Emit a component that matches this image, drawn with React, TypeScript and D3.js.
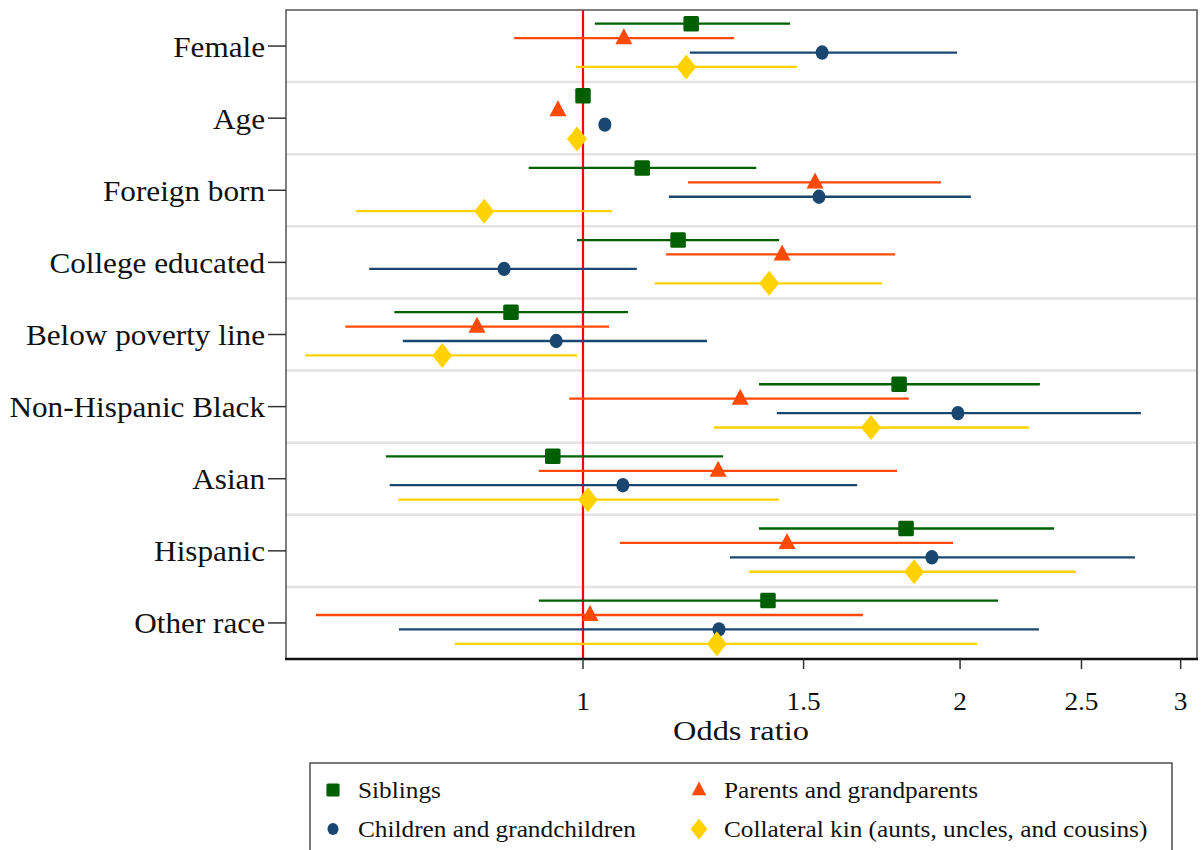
import React from "react";
import * as d3 from "d3";

const categories = [
  "Female",
  "Age",
  "Foreign born",
  "College educated",
  "Below poverty line",
  "Non-Hispanic Black",
  "Asian",
  "Hispanic",
  "Other race",
];

const seriesNames = [
  "Siblings",
  "Parents and grandparents",
  "Children and grandchildren",
  "Collateral kin (aunts, uncles, and cousins)",
];
const seriesColors = ["#005f00", "#ff4a06", "#1a476f", "#ffd200"];
const seriesShapes = ["square", "triangle", "circle", "diamond"];

// [estimate, lower, upper] per category
const siblings = [
  [1.22, 1.022, 1.463],
  [1.0, 1.0, 1.0],
  [1.115, 0.905, 1.375],
  [1.191, 0.989, 1.434],
  [0.876, 0.707, 1.086],
  [1.788, 1.382, 2.316],
  [0.946, 0.696, 1.294],
  [1.811, 1.382, 2.377],
  [1.405, 0.922, 2.145],
];
const parents = [
  [1.078, 0.881, 1.32],
  [0.955, 0.955, 0.955],
  [1.532, 1.213, 1.931],
  [1.442, 1.165, 1.775],
  [0.823, 0.646, 1.049],
  [1.335, 0.975, 1.82],
  [1.282, 0.922, 1.781],
  [1.455, 1.07, 1.974],
  [1.013, 0.612, 1.673],
];
const children = [
  [1.552, 1.217, 1.989],
  [1.041, 1.041, 1.041],
  [1.543, 1.171, 2.04],
  [0.865, 0.675, 1.104],
  [0.952, 0.718, 1.256],
  [1.992, 1.428, 2.789],
  [1.076, 0.701, 1.655],
  [1.899, 1.31, 2.758],
  [1.284, 0.713, 2.312],
];
const collateral = [
  [1.209, 0.987, 1.482],
  [0.989, 0.989, 0.989],
  [0.834, 0.659, 1.055],
  [1.408, 1.141, 1.733],
  [0.772, 0.6, 0.989],
  [1.698, 1.272, 2.27],
  [1.009, 0.712, 1.434],
  [1.838, 1.357, 2.475],
  [1.279, 0.79, 2.063],
];
const seriesData = [siblings, parents, children, collateral];

const xTicks = [1, 1.5, 2, 2.5, 3];
const xTickLabels = ["1", "1.5", "2", "2.5", "3"];
const xTitle = "Odds ratio";

const FONT = "'Liberation Serif', 'Times New Roman', serif";

function Marker({ shape, x, y, color, scale = 1 }: any) {
  if (shape === "square") {
    const s = 15.5 * scale;
    return <rect x={x - s / 2} y={y - s / 2} width={s} height={s} rx={1.5} fill={color} />;
  }
  if (shape === "triangle") {
    const w = 17 * scale, h = 16 * scale;
    return (
      <path
        d={`M${x},${y - h * 0.62} L${x + w / 2},${y + h * 0.38} L${x - w / 2},${y + h * 0.38} Z`}
        fill={color}
      />
    );
  }
  if (shape === "circle") {
    return <ellipse cx={x} cy={y} rx={6.5 * scale} ry={7.2 * scale} fill={color} />;
  }
  const w = 20 * scale, h = 25 * scale;
  return (
    <path
      d={`M${x},${y - h / 2} L${x + w / 2},${y} L${x},${y + h / 2} L${x - w / 2},${y} Z`}
      fill={color}
    />
  );
}

function SText({ x, y, sx = 1, children, ...rest }: any) {
  return (
    <g transform={`translate(${x},${y}) scale(${sx},1)`}>
      <text x={0} y={0} fontFamily={FONT} fill="#111" {...rest}>
        {children}
      </text>
    </g>
  );
}

export default function App() {
  const W = 1201, H = 850;
  const left = 286, right = 1197, top = 10, bottom = 659;

  const x = d3
    .scaleLog()
    .domain([Math.exp((left - 583) / 544), Math.exp((right - 583) / 544)])
    .range([left, right]);
  const band = d3.scaleBand().domain(categories).range([top, bottom]).padding(0);
  const bw = band.bandwidth();
  const offsets = [0.19, 0.39, 0.59, 0.79];

  return (
    <svg width={W} height={H} style={{ position: "absolute", left: 0, top: 0, background: "#fff" }}>
      <rect x={0} y={0} width={W} height={H} fill="#fff" />
      {categories.slice(1).map((c) => (
        <line key={c} x1={left} x2={right} y1={band(c)!} y2={band(c)!} stroke="#e3e3e3" strokeWidth={2.5} />
      ))}
      <line x1={x(1)} x2={x(1)} y1={top} y2={bottom} stroke="#ff0000" strokeWidth={2.2} />
      {seriesData.map((data, si) =>
        data.map((d, ci) => {
          const y = band(categories[ci])! + bw * offsets[si];
          return (
            <g key={`${si}-${ci}`}>
              {d[1] !== d[2] && (
                <line x1={x(d[1])} x2={x(d[2])} y1={y} y2={y} stroke={seriesColors[si]} strokeWidth={2.3} />
              )}
              <Marker shape={seriesShapes[si]} x={x(d[0])} y={y} color={seriesColors[si]} />
            </g>
          );
        })
      )}
      <rect x={left} y={top} width={right - left} height={bottom - top} fill="none" stroke="#555" strokeWidth={1.5} />
      <line x1={left - 1} x2={right + 1} y1={bottom} y2={bottom} stroke="#111" strokeWidth={2.5} />
      {categories.map((c) => {
        const y = band(c)! + bw / 2;
        return (
          <g key={c}>
            <line x1={left - 18} x2={left} y1={y} y2={y} stroke="#333" strokeWidth={1.5} />
            <SText x={left - 21} y={y} sx={1.04} dy="0.35em" textAnchor="end" fontSize={30}>
              {c}
            </SText>
          </g>
        );
      })}
      {xTicks.map((t, i) => (
        <g key={t}>
          <line x1={x(t)} x2={x(t)} y1={bottom} y2={bottom + 10} stroke="#333" strokeWidth={1.5} />
          <SText x={x(t)} y={bottom + 51} sx={1.05} textAnchor="middle" fontSize={26}>
            {xTickLabels[i]}
          </SText>
        </g>
      ))}
      <SText x={741} y={bottom + 81} sx={1.2} textAnchor="middle" fontSize={27}>
        {xTitle}
      </SText>
      <rect x={310} y={763} width={862} height={100} fill="#fff" stroke="#333" strokeWidth={1.3} />
      {seriesNames.map((n, i) => {
        const col = i % 2, row = Math.floor(i / 2);
        const mx = col === 0 ? 333 : 699;
        const my = row === 0 ? 790 : 829;
        return (
          <g key={n}>
            <Marker shape={seriesShapes[i]} x={mx} y={my} color={seriesColors[i]} scale={0.85} />
            <SText x={mx + 25} y={my} sx={1.1} dy="0.35em" fontSize={23}>
              {n}
            </SText>
          </g>
        );
      })}
    </svg>
  );
}
